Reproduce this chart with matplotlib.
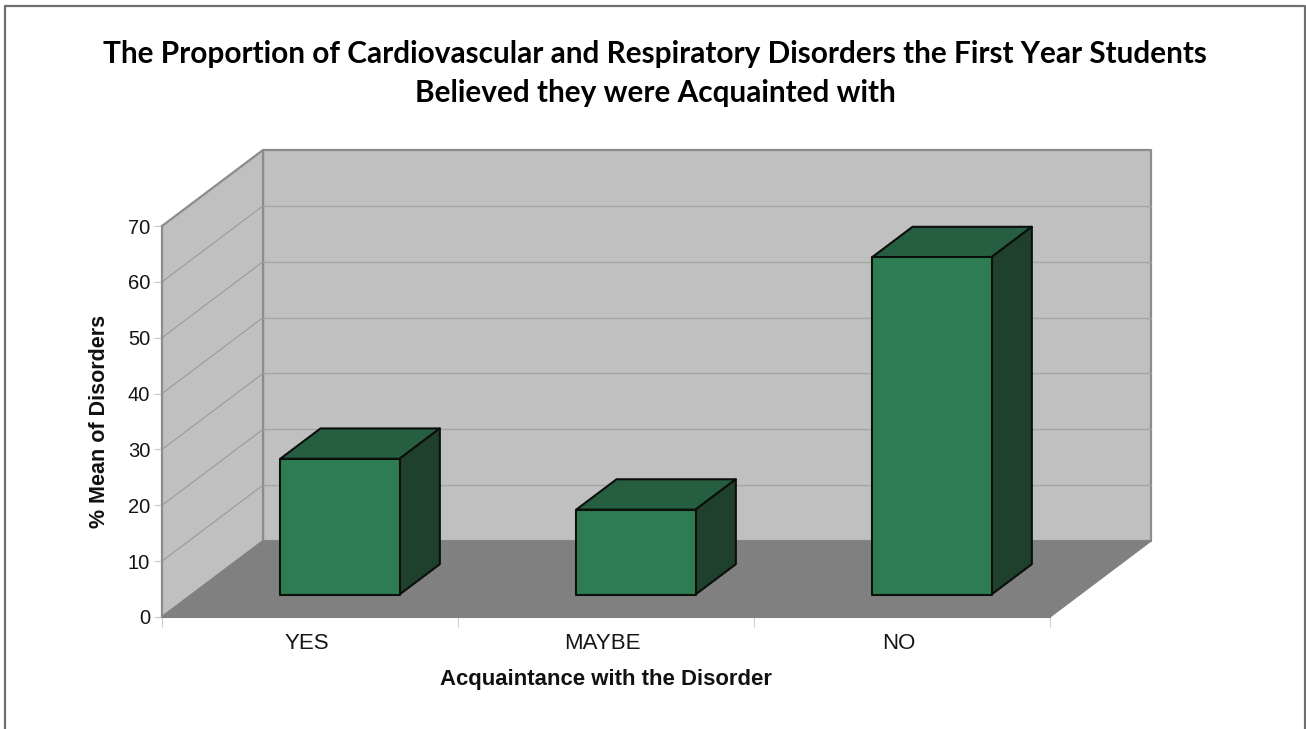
"""3D-look column chart: acquaintance with cardiovascular and respiratory disorders."""
import matplotlib

matplotlib.use("Agg")
import matplotlib.pyplot as plt
from matplotlib.patches import Polygon

categories = ["YES", "MAYBE", "NO"]
values = [24.3, 15.2, 60.4]
y_ticks = [0, 10, 20, 30, 40, 50, 60, 70]
title = ("The Proportion of Cardiovascular and Respiratory Disorders the First Year Students\n"
         "Believed they were Acquainted with")
x_label = "Acquaintance with the Disorder"
y_label = "% Mean of Disorders"

W, H = 1306, 729
WALL = "#c0c0c0"
FLOOR = "#808080"
WALL_EDGE = "#8c8c8c"
GRID = "#a6a6a6"
FRONT = "#2e7d52"
TOP = "#265e42"
SIDE = "#20402e"
EDGE = "#0a0f0c"

# oblique depth of the plot box, in axis units (x = categories, y = percent)
DX = 101 / 296
DY = 76 / (391 / 70)
BAR_W = 0.403
D0, D1 = 0.296, 0.695


def pr(x, y, d):
    return (x + d * DX, y + d * DY)


fig = plt.figure(figsize=(W / 100, H / 100), dpi=100, facecolor="white")
ax = fig.add_axes([162 / W, 1 - 617 / H, 888 / W, 391 / H], facecolor="none")
ax.set_xlim(0, len(categories))
ax.set_ylim(0, y_ticks[-1])

top = y_ticks[-1]
n = len(categories)


def poly(pts, fc, ec="none", lw=0, z=1):
    ax.add_patch(Polygon(pts, closed=True, fc=fc, ec=ec, lw=lw, zorder=z,
                         clip_on=False, joinstyle="round"))


# walls and floor
poly([pr(0, 0, 1), pr(n, 0, 1), pr(n, top, 1), pr(0, top, 1)], WALL, WALL_EDGE, 1.6)
poly([pr(0, 0, 0), pr(0, 0, 1), pr(0, top, 1), pr(0, top, 0)], WALL, WALL_EDGE, 1.6)
poly([pr(0, 0, 0), pr(n, 0, 0), pr(n, 0, 1), pr(0, 0, 1)], FLOOR, FLOOR, 1, z=2)

for t in y_ticks[1:-1]:
    xs, ys = zip(pr(0, t, 1), pr(n, t, 1))
    ax.plot(xs, ys, color=GRID, lw=1.0, zorder=1.5, clip_on=False)
    xs, ys = zip(pr(0, t, 0), pr(0, t, 1))
    ax.plot(xs, ys, color="#8f8f8f", lw=0.6, zorder=1.5, clip_on=False)

# columns
for i, v in enumerate(values):
    x0 = i + 0.5 - BAR_W / 2
    x1 = x0 + BAR_W
    poly([pr(x0, v, D0), pr(x1, v, D0), pr(x1, v, D1), pr(x0, v, D1)], TOP, EDGE, 1.5, z=3)
    poly([pr(x1, 0, D0), pr(x1, 0, D1), pr(x1, v, D1), pr(x1, v, D0)], SIDE, EDGE, 1.5, z=3)
    poly([pr(x0, 0, D0), pr(x1, 0, D0), pr(x1, v, D0), pr(x0, v, D0)], FRONT, EDGE, 1.5, z=4)

for name in ["top", "right"]:
    ax.spines[name].set_visible(False)
ax.spines["left"].set_color(WALL_EDGE)
ax.spines["left"].set_linewidth(1.4)
ax.spines["bottom"].set_color(FLOOR)
ax.spines["left"].set_zorder(5)

ax.set_yticks(y_ticks)
ax.tick_params(axis="y", length=6, width=0.8, color="#c8c8c8", pad=2.5,
               labelsize=14.5, labelcolor="#151515", labelfontfamily="Liberation Sans")
ax.set_xticks(range(n + 1), [""] * (n + 1))
ax.tick_params(axis="x", which="major", length=7, width=0.8, color="#d0d0d0")
ax.set_xticks([i + 0.5 - 0.012 for i in range(n)], categories, minor=True)
ax.tick_params(axis="x", which="minor", length=0, pad=11.5,
               labelsize=16, labelcolor="#151515", labelfontfamily="Liberation Sans")

fig.text(606 / W, 1 - 679 / H, x_label, ha="center", va="center", fontsize=15.9,
         fontweight="bold", family="Liberation Sans", color="#111111")
fig.text(100 / W, 1 - 421 / H, y_label, ha="center", va="center", rotation=90,
         fontsize=15.5, fontweight="bold", family="Liberation Sans", color="#111111")
fig.text(655 / W, 1 - 73.5 / H, title, ha="center", va="center", fontsize=21.4,
         fontweight="bold", family="Lato", color="black", linespacing=1.46)

# page frame, open at the bottom
xy = [(5, 729), (5, 6), (1305, 6), (1305, 729)]
xs = [p[0] / W for p in xy]
ys = [1 - p[1] / H for p in xy]
fig.add_artist(plt.Line2D(xs, ys, color="#6e6e6e", lw=1.6))

fig.savefig("out.png", dpi=100)
